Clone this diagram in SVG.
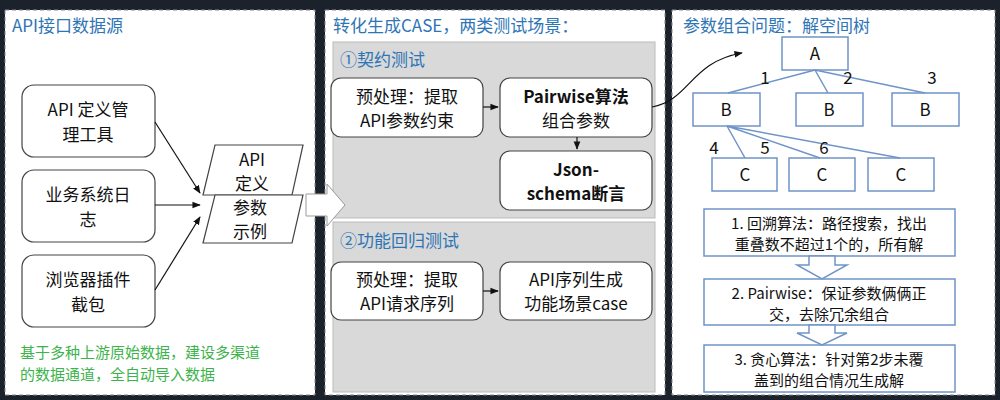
<svg xmlns="http://www.w3.org/2000/svg" width="1000" height="400" viewBox="0 0 1000 400">
<defs>
<marker id="ah" viewBox="0 0 10 10" refX="9" refY="5" markerWidth="7" markerHeight="7" orient="auto"><path d="M0,1 L10,5 L0,9 z" fill="#111"/></marker>
<style>
text{font-family:"Noto Sans CJK SC","Liberation Sans",sans-serif;fill:#111;text-anchor:middle}
.panel{fill:#fff;stroke:#888;stroke-dasharray:4 3}
.title{fill:#2e75b6;font-size:17px;text-anchor:start}
.box{fill:#fff;stroke:#444;stroke-width:1.2}
.sec{fill:#d9d9d9;stroke:#bbb}
.t{font-size:17px}
.b{font-weight:bold}
.tb{fill:#fff;stroke:#6f94c8;stroke-width:1.5}
.ln{stroke:#6f94c8;stroke-width:1.5;fill:none}
.c{stroke:#111;stroke-width:1.2;fill:none;marker-end:url(#ah)}
.s{font-size:15px}
</style>
</defs>
<rect width="1000" height="400" fill="#1c222b"/>
<rect class="panel" x="5" y="10" width="310" height="385"/>
<rect class="panel" x="325" y="10" width="340" height="385"/>
<rect class="panel" x="672" y="10" width="323" height="385"/>
<text class="title" x="12" y="32">API接口数据源</text>
<text class="title" x="333" y="32">转化生成CASE，两类测试场景：</text>
<text class="title" x="683" y="32">参数组合问题：解空间树</text>
<g id="n1"><rect class="box" x="22" y="85" width="133" height="72" rx="12"/><text class="t" x="88" y="116">API 定义管</text><text class="t" x="88" y="141">理工具</text></g>
<g id="n2"><rect class="box" x="22" y="170" width="133" height="72" rx="12"/><text class="t" x="88" y="201">业务系统日</text><text class="t" x="88" y="226">志</text></g>
<g id="n3"><rect class="box" x="22" y="255" width="133" height="72" rx="12"/><text class="t" x="88" y="286">浏览器插件</text><text class="t" x="88" y="311">截包</text></g>
<g id="n4"><path class="box" d="M215,145 L303,145 L292,195 L203,195 Z"/><text class="t" x="252" y="166">API</text><text class="t" x="252" y="190">定义</text></g>
<g id="n5"><path class="box" d="M215,195 L303,195 L292,243 L203,243 Z"/><text class="t" x="250" y="214">参数</text><text class="t" x="250" y="238">示例</text></g>
<text x="20" y="358" style="font-size:15px;fill:#3cb44b;text-anchor:start">基于多种上游原始数据，建设多渠道</text>
<text x="20" y="380" style="font-size:15px;fill:#3cb44b;text-anchor:start">的数据通道，全自动导入数据</text>
<rect class="sec" x="333" y="42" width="322" height="176"/>
<rect class="sec" x="333" y="222" width="322" height="170"/>
<path d="M306,194 L327,194 L327,184 L345,205 L327,226 L327,216 L306,216 Z" fill="#fff" stroke="#999"/>
<text class="title" x="340" y="66">①契约测试</text>
<text class="title" x="340" y="247">②功能回归测试</text>
<g id="n6"><rect class="box" x="331" y="78" width="152" height="59" rx="10"/><text class="t" x="407" y="103">预处理：提取</text><text class="t" x="407" y="127">API参数约束</text></g>
<g id="n7"><rect class="box" x="500" y="78" width="152" height="59" rx="10"/><text class="t b" x="576" y="103">Pairwise算法</text><text class="t" x="576" y="127">组合参数</text></g>
<g id="n8"><rect class="box" x="500" y="151" width="152" height="59" rx="10"/><text class="t b" x="576" y="176">Json-</text><text class="t b" x="576" y="200">schema断言</text></g>
<g id="n9"><rect class="box" x="331" y="262" width="152" height="58" rx="10"/><text class="t" x="407" y="286">预处理：提取</text><text class="t" x="407" y="310">API请求序列</text></g>
<g id="n10"><rect class="box" x="500" y="262" width="152" height="58" rx="10"/><text class="t" x="576" y="286">API序列生成</text><text class="t" x="576" y="310">功能场景case</text></g>
<g id="tree">
<rect class="tb" x="782" y="37" width="66" height="33"/><text class="t" x="815" y="60">A</text>
<rect class="tb" x="693" y="93" width="67" height="33"/><text class="t" x="726" y="116">B</text>
<rect class="tb" x="796" y="93" width="67" height="33"/><text class="t" x="829" y="116">B</text>
<rect class="tb" x="892" y="93" width="67" height="33"/><text class="t" x="925" y="116">B</text>
<rect class="tb" x="712" y="158" width="65" height="33"/><text class="t" x="745" y="181">C</text>
<rect class="tb" x="789" y="158" width="66" height="33"/><text class="t" x="822" y="181">C</text>
<rect class="tb" x="868" y="158" width="66" height="33"/><text class="t" x="901" y="181">C</text>
<path class="ln" d="M815,70 L728,93 M815,70 L828,93 M815,70 L925,93 M727,126 L745,158 M727,126 L820,158 M727,126 L900,158"/>
<text class="t" x="765" y="84">1</text><text class="t" x="848" y="84">2</text><text class="t" x="932" y="84">3</text>
<text class="t" x="714" y="154">4</text><text class="t" x="765" y="154">5</text><text class="t" x="824" y="154">6</text>
</g>
<g id="s1"><rect class="tb" x="704" y="209" width="251" height="47"/><text class="s" x="829" y="229">1. 回溯算法：路径搜索，找出</text><text class="s" x="829" y="250">重叠数不超过1个的，所有解</text></g>
<g id="s2"><rect class="tb" x="704" y="279" width="251" height="46"/><text class="s" x="829" y="299">2. Pairwise：保证参数俩俩正</text><text class="s" x="829" y="320">交，去除冗余组合</text></g>
<g id="s3"><rect class="tb" x="704" y="345" width="251" height="47"/><text class="s" x="829" y="365">3. 贪心算法：针对第2步未覆</text><text class="s" x="829" y="386">盖到的组合情况生成解</text></g>
<path class="tb" d="M809,256 L835,256 L835,265 L847,265 L822,279 L797,265 L809,265 Z"/>
<path class="tb" d="M809,325 L835,325 L835,333 L847,333 L822,345 L797,333 L809,333 Z"/>
<g id="connectors">
<path class="c" d="M155,122 L200,193"/>
<path class="c" d="M155,205 L200,205"/>
<path class="c" d="M155,290 L200,217"/>
<path class="c" d="M483,107 L498,107"/>
<path class="c" d="M577,137 L577,149"/>
<path class="c" d="M483,291 L498,291"/>
<path class="c" d="M652,107 C690,100 690,62 742,53"/>
</g>
</svg>
